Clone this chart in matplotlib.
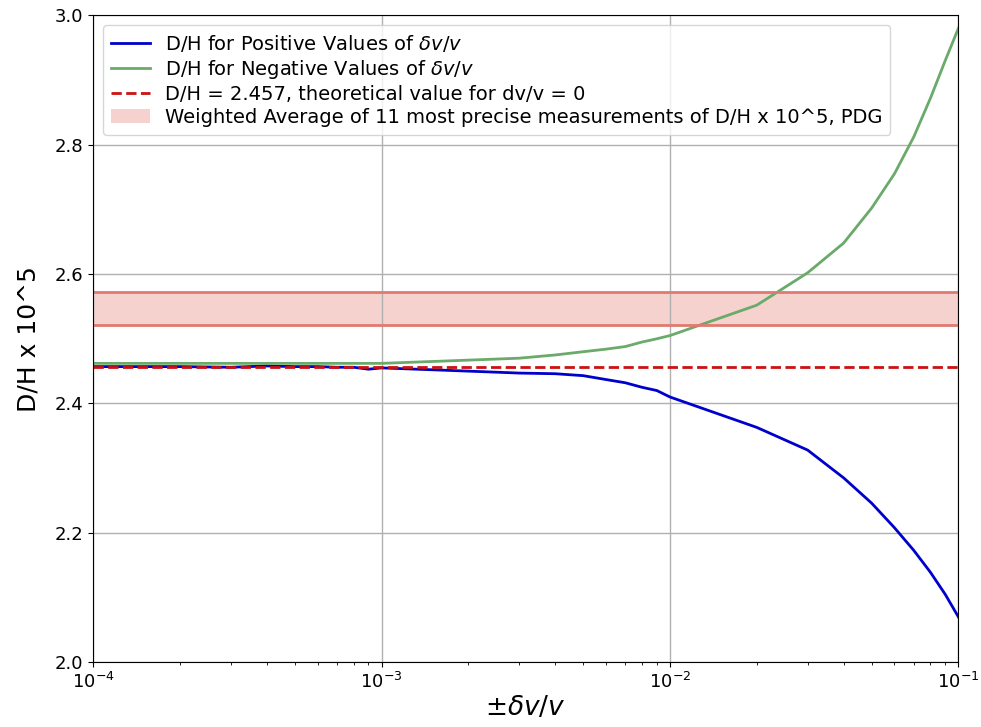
import numpy as np
import matplotlib.pyplot as plt

# dv/v values (1..9 per decade)
dv = [1e-4, 2e-4, 3e-4, 4e-4, 5e-4, 6e-4, 7e-4, 8e-4, 9e-4,
      1e-3, 2e-3, 3e-3, 4e-3, 5e-3, 6e-3, 7e-3, 8e-3, 9e-3,
      1e-2, 2e-2, 3e-2, 4e-2, 5e-2, 6e-2, 7e-2, 8e-2, 9e-2, 1e-1]

dh_pos = [2.457, 2.457, 2.456, 2.458, 2.457, 2.457, 2.456, 2.456, 2.453,
          2.455, 2.450, 2.447, 2.446, 2.443, 2.437, 2.432, 2.425, 2.420,
          2.410, 2.363, 2.328, 2.285, 2.246, 2.208, 2.173, 2.139, 2.105, 2.070]

dh_neg = [2.462, 2.462, 2.462, 2.462, 2.462, 2.462, 2.462, 2.462, 2.462,
          2.462, 2.467, 2.470, 2.475, 2.480, 2.484, 2.488, 2.495, 2.500,
          2.505, 2.552, 2.602, 2.648, 2.702, 2.755, 2.812, 2.872, 2.930, 2.980]

dh_theory = 2.457
pdg_low = 2.522
pdg_high = 2.572

fig = plt.figure(figsize=(9.81, 7.27), dpi=100)
ax = fig.add_axes([0.095, 0.089, 0.882, 0.890])

ax.plot(dv, dh_pos, color='#0000cc', lw=2, label=r'D/H for Positive Values of $\delta v/v$')
ax.plot(dv, dh_neg, color='#6aaa6a', lw=2, label=r'D/H for Negative Values of $\delta v/v$')
ax.axhline(dh_theory, color='#cc1111', ls='--', lw=2,
           label='D/H = 2.457, theoretical value for dv/v = 0')
ax.axhspan(pdg_low, pdg_high, facecolor='#f5d2ce', edgecolor='none',
           label='Weighted Average of 11 most precise measurements of D/H x 10^5, PDG')
ax.axhline(pdg_low, color='#e07a70', lw=2)
ax.axhline(pdg_high, color='#e07a70', lw=2)

ax.set_xscale('log')
ax.set_xlim(1e-4, 1e-1)
ax.set_ylim(2.0, 3.0)
ax.set_yticks([2.0, 2.2, 2.4, 2.6, 2.8, 3.0])
ax.grid(True, which='major', color='#b0b0b0', lw=1)
ax.tick_params(labelsize=13)
ax.set_xlabel(r'$\pm\delta v/v$', fontsize=19, labelpad=2)
ax.set_ylabel('D/H x 10^5', fontsize=18, labelpad=10)
ax.legend(loc='upper left', fontsize=14, labelspacing=0.21)

fig.savefig('out.png')
